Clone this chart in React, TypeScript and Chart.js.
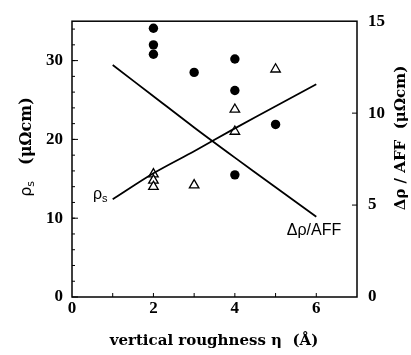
import React, { useEffect, useRef } from "react";
import { Chart, registerables } from "chart.js";

Chart.register(...registerables);

// ---- data ----
const circleEta = [2, 2, 2, 3, 4, 4, 4, 5];
const circleRho = [34.1, 32.0, 30.8, 28.5, 30.2, 26.2, 15.5, 21.9];

const triangleEta = [2, 2, 2, 3, 4, 4, 5];
const triangleRho = [15.6, 14.8, 14.0, 14.2, 23.8, 21.0, 28.9];

const lineEta = [1, 2, 3, 4, 5, 6];
const rhoSLine = [12.4, 15.7, 18.5, 21.4, 24.2, 27.0];
const dRhoAffLine = [12.62, 10.92, 9.22, 7.58, 5.97, 4.37];

const xTicks = [0, 2, 4, 6];
const leftTicks = [0, 10, 20, 30];
const rightTicks = [0, 5, 10, 15];

const xTitle = "vertical roughness η  (Å)";
const rightTitle = "Δρ / AFF  (μΩcm)";
const leftTitleUnit = "(μΩcm)";

const TICK_FONT = { family: "'Liberation Serif', serif", size: 17, weight: "bold" as const };

const overlay = {
  id: "overlay",
  afterDraw(chart: any) {
    const ctx = chart.ctx as CanvasRenderingContext2D;
    const a = chart.chartArea;
    const xs = chart.scales.x;
    const yl = chart.scales.y;
    const yr = chart.scales.y2;
    ctx.save();
    ctx.strokeStyle = "#000";
    ctx.lineWidth = 1.5;
    ctx.strokeRect(a.left, a.top, a.right - a.left, a.bottom - a.top);

    ctx.lineWidth = 1;
    ctx.beginPath();
    // bottom ticks (inward)
    for (let v = 1; v <= 6; v++) {
      const px = xs.getPixelForValue(v);
      ctx.moveTo(px, a.bottom);
      ctx.lineTo(px, a.bottom - 4);
    }
    // left ticks: major every 10, minor every 2
    for (let v = 2; v < 35; v += 2) {
      const py = yl.getPixelForValue(v);
      ctx.moveTo(a.left, py);
      ctx.lineTo(a.left + 3, py);
    }
    for (const v of leftTicks) {
      const py = yl.getPixelForValue(v);
      ctx.moveTo(a.left, py);
      ctx.lineTo(a.left + 6, py);
    }
    // right ticks
    for (const v of [5, 10]) {
      const py = yr.getPixelForValue(v);
      ctx.moveTo(a.right, py);
      ctx.lineTo(a.right - 5, py);
    }
    ctx.stroke();

    // axis titles
    ctx.fillStyle = "#000";
    ctx.textAlign = "center";
    ctx.textBaseline = "middle";
    ctx.font = "bold 15px 'DejaVu Serif', serif";
    ctx.fillText(xTitle, 214, 341);

    // right title (reads bottom to top)
    ctx.save();
    ctx.translate(401, 138);
    ctx.rotate(-Math.PI / 2);
    ctx.font = "bold 15px 'DejaVu Serif', serif";
    ctx.fillText(rightTitle, 0, 0);
    ctx.restore();

    // left title ρs (μΩcm)
    ctx.save();
    ctx.translate(27, 147);
    ctx.rotate(-Math.PI / 2);
    ctx.textAlign = "left";
    ctx.font = "bold 16px 'DejaVu Serif', serif";
    const unitW = ctx.measureText(leftTitleUnit).width;
    ctx.font = "16px 'DejaVu Sans', sans-serif";
    const rhoW = ctx.measureText("ρ").width;
    ctx.font = "11px 'DejaVu Sans', sans-serif";
    const sW = ctx.measureText("s").width;
    const gap = 16;
    const total = rhoW + sW + gap + unitW;
    let cx = -total / 2;
    ctx.font = "16px 'DejaVu Sans', sans-serif";
    ctx.fillText("ρ", cx, 0);
    cx += rhoW;
    ctx.font = "11px 'DejaVu Sans', sans-serif";
    ctx.fillText("s", cx, 4);
    cx += sW + gap;
    ctx.font = "bold 16px 'DejaVu Serif', serif";
    ctx.fillText(leftTitleUnit, cx, 0);
    ctx.restore();

    // inline curve labels
    ctx.textAlign = "left";
    ctx.font = "16px 'Liberation Sans', Arial, sans-serif";
    ctx.fillText("ρ", 93, 195);
    const rw = ctx.measureText("ρ").width;
    ctx.font = "11px 'Liberation Sans', Arial, sans-serif";
    ctx.fillText("s", 93 + rw, 199);
    ctx.font = "16px 'Liberation Sans', Arial, sans-serif";
    ctx.textAlign = "center";
    ctx.fillText("Δρ/AFF", 314, 231);
    ctx.restore();
  },
};

export default function App() {
  const ref = useRef<HTMLCanvasElement>(null);
  useEffect(() => {
    if (!ref.current) return;
    const chart = new Chart(ref.current, {
      type: "scatter",
      data: {
        datasets: [
          {
            label: "ρs line",
            type: "line",
            data: lineEta.map((x, i) => ({ x, y: rhoSLine[i] })),
            yAxisID: "y",
            borderColor: "#000",
            borderWidth: 1.8,
            pointRadius: 0,
            tension: 0.3,
            fill: false,
          },
          {
            label: "Δρ/AFF line",
            type: "line",
            data: lineEta.map((x, i) => ({ x, y: dRhoAffLine[i] })),
            yAxisID: "y2",
            borderColor: "#000",
            borderWidth: 1.8,
            pointRadius: 0,
            tension: 0.3,
            fill: false,
          },
          {
            label: "circles",
            data: circleEta.map((x, i) => ({ x, y: circleRho[i] })),
            yAxisID: "y",
            pointStyle: "circle",
            pointRadius: 4.7,
            backgroundColor: "#000",
            borderColor: "#000",
            borderWidth: 0,
          },
          {
            label: "triangles",
            data: triangleEta.map((x, i) => ({ x, y: triangleRho[i] })),
            yAxisID: "y",
            pointStyle: "triangle",
            pointRadius: 5.5,
            backgroundColor: "#fff",
            borderColor: "#000",
            borderWidth: 1.3,
          },
        ],
      },
      options: {
        responsive: false,
        animation: false,
        events: [],
        layout: { padding: { top: 12, left: 0, right: 0, bottom: 0 } },
        plugins: { legend: { display: false }, tooltip: { enabled: false } },
        scales: {
          x: {
            type: "linear",
            position: "bottom",
            min: 0,
            max: 7,
            afterFit: (s: any) => { s.height = 58; },
            afterBuildTicks: (s: any) => { s.ticks = xTicks.map((v) => ({ value: v })); },
            grid: { display: false, drawTicks: false },
            border: { display: false },
            ticks: { color: "#000", font: TICK_FONT, padding: 1, maxRotation: 0 },
          },
          y: {
            type: "linear",
            position: "left",
            min: 0,
            max: 35,
            afterFit: (s: any) => { s.width = 72; },
            afterBuildTicks: (s: any) => { s.ticks = leftTicks.map((v) => ({ value: v })); },
            grid: { display: false, drawTicks: false },
            border: { display: false },
            ticks: { color: "#000", font: TICK_FONT, padding: 9 },
          },
          y2: {
            type: "linear",
            position: "right",
            min: 0,
            max: 15,
            afterFit: (s: any) => { s.width = 54; },
            afterBuildTicks: (s: any) => { s.ticks = rightTicks.map((v) => ({ value: v })); },
            grid: { display: false, drawTicks: false },
            border: { display: false },
            ticks: { color: "#000", font: TICK_FONT, padding: 11 },
          },
        },
      },
      plugins: [overlay],
    });
    return () => chart.destroy();
  }, []);
  return (
    <div style={{ position: "fixed", left: 0, top: 0, width: 411, height: 355, background: "#fff" }}>
      <canvas ref={ref} width={411} height={355} style={{ width: 411, height: 355, display: "block" }} />
    </div>
  );
}
